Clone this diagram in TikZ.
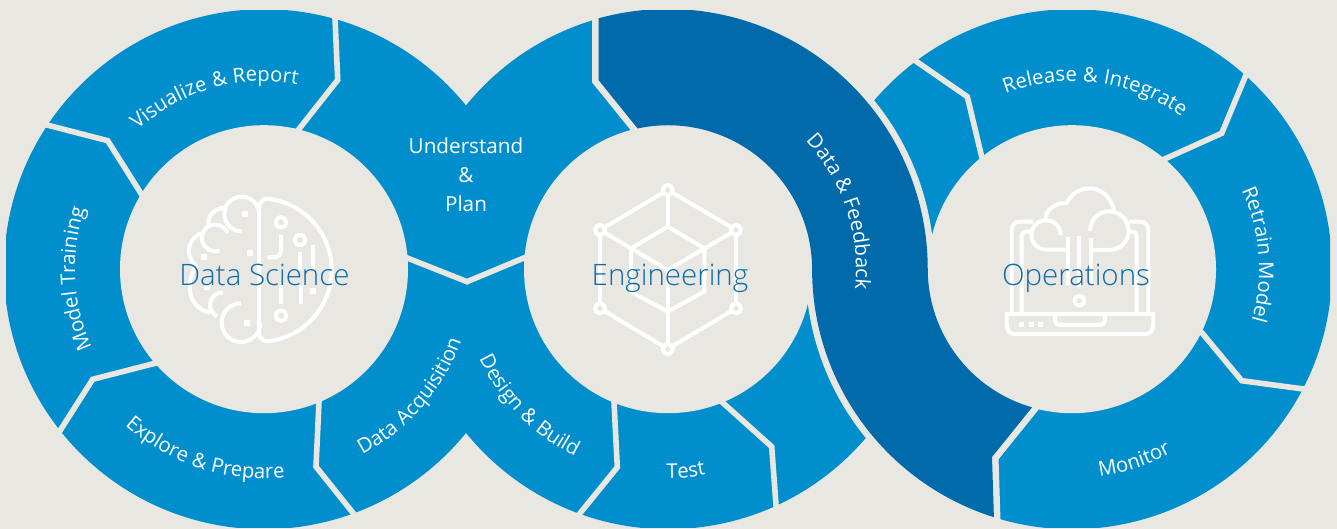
\documentclass[tikz,border=0pt]{standalone}
\usepackage{fontspec}
\setmainfont{Open Sans}
\newfontfamily\lightfont{Open Sans Light}
\newfontfamily\arcfont[LetterSpace=2.5]{Open Sans}
\usetikzlibrary{decorations.text}
\definecolor{bgc}{HTML}{E8E7E2}
\definecolor{ringc}{HTML}{008FCC}
\definecolor{bandc}{HTML}{006AAB}
\definecolor{titlec}{HTML}{0F6CAB}
\newcommand{\arclabel}[5]{% cx, r, start, end, text
  \path[decorate,decoration={text along path,text align={center},text={|\color{white}\arcfont\fontsize{20.3}{24}\selectfont|#5}}]
    (#1,259.8) ++(#3:#2) arc[start angle=#3,end angle=#4,radius=#2];}
\tikzset{
  ringpart/.style={fill=ringc},
  innerdisc/.style={fill=bgc},
  sepline/.style={draw=bgc,line width=5.6pt,miter limit=10,shorten <=-7pt,shorten >=-7pt},
  bandshape/.style={fill=bandc,preaction={draw=bgc,line width=13pt,line join=miter,miter limit=10}},
  icon/.style={draw=white,line width=4pt,line cap=butt,line join=round},
  iconfill/.style={fill=white},
  title/.style={text=titlec,font=\lightfont\fontsize{29.5}{34}\selectfont,inner sep=0pt,anchor=base},
  plain/.style={text=white,font=\fontsize{20.7}{29}\selectfont,align=center,inner sep=0pt}
}
\begin{document}
\begin{tikzpicture}[x=1pt,y=1pt]
\fill[bgc] (0,0) rectangle (1337,529);
\useasboundingbox (0,0) rectangle (1337,529);
\begin{scope}[yshift=529pt,yscale=-1]
  \coordinate (c1) at (264,269.2);
  \coordinate (c2) at (668,269.2);
  \coordinate (c3) at (1072,269.2);
  \begin{scope}
    \clip (6,11) rectangle (1330,528);
    \fill[ringpart] (c1) circle[radius=260];
    \fill[ringpart] (c2) circle[radius=260];
    \fill[ringpart] (c3) circle[radius=260];
    \fill[innerdisc] (c1) circle[radius=144];
    \fill[innerdisc] (c2) circle[radius=144];
    \fill[innerdisc] (c3) circle[radius=144];
    % separators
    \draw[sepline] (335,18) -- (337.7,80) -- (299,129);
    \draw[sepline] (47,125) -- (107.7,140.7) -- (140.7,193);
    \draw[sepline] (60,430.7) -- (92.7,379.3) -- (155,363.3);
    \draw[sepline] (319,401.7) -- (316,466.7) -- (353.3,513.3);
    \draw[sepline] (406,257.5) -- (467,281.7) -- (525,257.5);
    \draw[sepline] (614,401.7) -- (617.3,467.3) -- (580,513.3);
    \draw[sepline] (722.3,402.3) -- (771.7,446.7) -- (776,505);
    \draw[sepline] (916.7,61.7) -- (967.3,96.7) -- (981.7,156.7);
    \draw[sepline] (1245,77.3) -- (1221.7,133.3) -- (1164,159.3);
    \draw[sepline] (1202.3,333.3) -- (1241.7,380.7) -- (1303.3,389);
    % dark band
    \path[bandshape] (598.7,18.3)
      arc[start angle=-105.4,end angle=0,radius=260]
      arc[start angle=180,end angle=106,radius=144]
      -- (992,457) -- (993.9,517.2)
      arc[start angle=107.5,end angle=180,radius=260]
      arc[start angle=0,end angle=-102.2,radius=144]
      -- (598.5,80) -- cycle;
  \end{scope}
  % brain icon
  \begin{scope}[shift={(160,170)},scale=0.33333]
    \draw[icon] (297,480) -- (297,120) .. controls (297,100) and (305,88) .. (318.7,85.8)
       arc[start angle=-85,end angle=85,radius=215]
       .. controls (305,512) and (297,500) .. (297,480);
    \draw[icon] (297,132) arc[start angle=0,end angle=-270,radius=52];
    \draw[icon] (197,112) .. controls (165,115) and (143,135) .. (145,165);
    \draw[icon] (203,190) arc[start angle=-20,end angle=-290,radius=40];
    \draw[icon] (127,190) .. controls (100,195) and (85,225) .. (87,245)
       .. controls (88,265) and (100,280) .. (108,288)
       .. controls (95,310) and (88,335) .. (90,360)
       .. controls (92,395) and (115,420) .. (150,428);
    \draw[icon] (243,400) arc[start angle=-90,end angle=-360,radius=58];
    \draw[icon] (188,367) arc[start angle=-90,end angle=-245,radius=38];
    \foreach \sx/\sy in {255/132,270/248,132/260,140/350,262/458,458/362}
      \fill[iconfill] (\sx-9,\sy-9) rectangle (\sx+9,\sy+9);
    \draw[icon] (363,157) circle[radius=16];
    \draw[icon] (420,210) circle[radius=16];
    \draw[icon] (363,437) circle[radius=16];
    \draw[icon] (363,195) -- (363,240) .. controls (363,255) and (355,262) .. (340,262) -- (322,262);
    \draw[icon] (420,245) -- (420,300);
    \draw[icon] (460,225) -- (460,300);
    \draw[icon] (363,345) -- (363,402);
    \draw[icon] (422,345) -- (422,402);
  \end{scope}
  % cube icon
  \begin{scope}[shift={(570,170)},scale=0.33333]
    \draw[icon] (90,180) -- (293,60) -- (498,180) -- (498,415) -- (293,537) -- (90,415) -- cycle;
    \draw[icon] (293,60) -- (293,170);
    \draw[icon] (90,180) -- (293,300) -- (498,180);
    \draw[icon] (183,235) -- (293,170) -- (403,235) -- (403,365) -- (293,425) -- (183,365) -- cycle;
    \draw[icon] (293,300) -- (293,537);
    \foreach \sx/\sy in {293/60,90/180,498/180,90/415,498/415,293/537}
      \draw[icon,fill=bgc] (\sx,\sy) circle[radius=15];
  \end{scope}
  % laptop and cloud icon
  \begin{scope}[shift={(990,170)},scale=0.33333]
    \draw[icon] (65,430) -- (65,180) .. controls (65,165) and (75,155) .. (90,155) -- (130,155);
    \draw[icon] (475,430) -- (475,180) .. controls (475,165) and (465,155) .. (450,155) -- (418,155);
    \draw[icon] (95,430) -- (95,197) .. controls (95,190) and (100,185) .. (107,185) -- (120,185);
    \draw[icon] (440,430) -- (440,197) .. controls (440,190) and (435,185) .. (428,185) -- (413,185);
    \draw[icon] (50,432) -- (490,432) -- (490,465) .. controls (490,482) and (480,492) .. (465,492)
      -- (75,492) .. controls (60,492) and (50,482) .. (50,465) -- cycle;
    \draw[icon] (195,436) -- (195,450) .. controls (195,460) and (202,465) .. (212,465)
      -- (328,465) .. controls (338,465) and (345,460) .. (345,450) -- (345,436);
    \foreach \sx in {95,124,152}
      \fill[iconfill] (\sx-8,455) rectangle (\sx+8,471);
    \draw[icon] (268,392) circle[radius=15];
    \draw[icon] (212,195) arc[start angle=0,end angle=-270,radius=44] -- (235,239);
    \draw[icon] (300,182) arc[start angle=180,end angle=450,radius=58] -- (303,240);
    \draw[icon] (165,150) .. controls (168,118) and (195,97) .. (230,100)
      .. controls (245,70) and (270,55) .. (300,55) .. controls (335,55) and (365,85) .. (372,122);
    \draw[icon] (235,200) -- (235,345);
    \draw[icon] (303,205) -- (303,345);
    \draw[icon] (268,198) -- (268,352);
  \end{scope}
\end{scope}
% centre titles
\node[title] (ds) at (264.5,243.5) {Data Science};
\node[title] (en) at (670,243.5) {Engineering};
\node[title] (op) at (1076,243.5) {Operations};
% straight label
\node[plain] (up) at (466,354) {Understand\\\&\\Plan};
% labels along the rings
\arclabel{264}{188}{156}{56}{Visualize {\&} Report}
\arclabel{264}{189}{233}{133}{Model Training}
\arclabel{264}{209}{202}{302}{Explore {\&} Prepare}
\arclabel{264}{210}{269}{369}{Data Acquisition}
\arclabel{668}{209}{174.5}{274.5}{Design {\&} Build}
\arclabel{668}{209}{225}{325}{Test}
\arclabel{668}{188}{68.5}{-31.5}{Data {\&} Feedback}
\arclabel{1072}{188}{132.5}{32.5}{Release {\&} Integrate}
\arclabel{1072}{187}{54.5}{-45.5}{Retrain Model}
\arclabel{1072}{209}{238}{338}{Monitor}
\end{tikzpicture}
\end{document}
